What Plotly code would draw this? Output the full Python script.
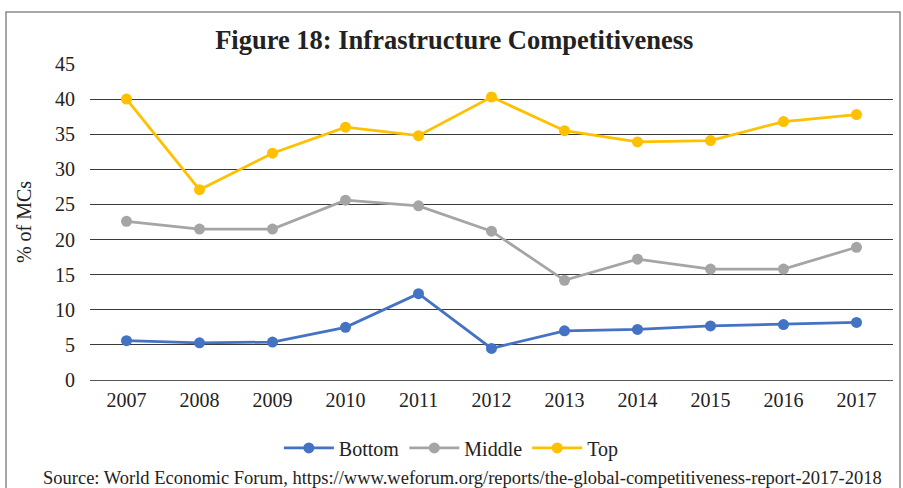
import plotly.graph_objects as go

# --- data ---
years = ["2007", "2008", "2009", "2010", "2011", "2012",
         "2013", "2014", "2015", "2016", "2017"]
bottom = [5.6, 5.3, 5.4, 7.5, 12.3, 4.5, 7.0, 7.2, 7.7, 7.9, 8.2]
middle = [22.6, 21.5, 21.5, 25.6, 24.8, 21.2, 14.2, 17.2, 15.8, 15.8, 18.9]
top = [40.0, 27.1, 32.3, 36.0, 34.8, 40.3, 35.5, 33.9, 34.1, 36.8, 37.8]

y_ticks = [0, 5, 10, 15, 20, 25, 30, 35, 40, 45]

SERIF = "Liberation Serif, Times New Roman, serif"

fig = go.Figure()

for name, vals, color in [("Bottom", bottom, "#4472C4"),
                          ("Middle", middle, "#A5A5A5"),
                          ("Top", top, "#FFC000")]:
    fig.add_trace(go.Scatter(
        x=years, y=vals,
        # legend text ignores the family otherwise, so force it inline
        name=f"<span style='font-family:Liberation Serif'>{name}</span>",
        mode="lines+markers",
        line=dict(color=color, width=2.75),
        marker=dict(color=color, size=11),
    ))

fig.update_layout(
    template="none",
    width=903, height=488,
    margin=dict(l=90, r=10, t=64, b=108, autoexpand=False),
    paper_bgcolor="white", plot_bgcolor="white",
    font=dict(family=SERIF, size=20, color="#222222"),
    title=dict(
        text="<b>Figure 18: Infrastructure Competitiveness</b>",
        x=0.503, xanchor="center", y=0.918, yanchor="middle",
        font=dict(family=SERIF, size=26.5, color="#222222"),
    ),
    legend=dict(
        orientation="h", x=0.45, xanchor="center",
        y=-0.215, yanchor="middle",
        font=dict(family=SERIF, size=20, color="#222222"),
        itemwidth=50,
    ),
    showlegend=True,
)

fig.update_xaxes(
    type="category", range=[-0.5, 10.5],
    showgrid=False, showline=False, ticks="", ticklabelstandoff=6,
    tickfont=dict(family=SERIF, size=20),
)
fig.update_yaxes(
    range=[0, 45], tickvals=y_ticks,
    showgrid=True, gridcolor="#3a3a3a", gridwidth=1,
    zeroline=True, zerolinecolor="#555555", zerolinewidth=1.2,
    showline=False, ticks="", ticklabelstandoff=14,
    tickfont=dict(family=SERIF, size=20),
    title=dict(text="% of MCs", standoff=18,
               font=dict(family=SERIF, size=20)),
)

# outer frame of the figure
fig.add_shape(type="rect", xref="paper", yref="paper",
              x0=-0.1046, x1=1.0087, y0=-0.40, y1=1.1646,
              line=dict(color="#8a8a8a", width=1.5), layer="below")

fig.add_annotation(
    text="Source: World Economic Forum, https://www.weforum.org/reports/the-global-competitiveness-report-2017-2018",
    xref="paper", yref="paper", x=0.4645, y=-0.31,
    xanchor="center", yanchor="middle", showarrow=False,
    font=dict(family=SERIF, size=18.5, color="#222222"),
)

# page body has a default 8px margin; drop it so the figure fills the window
fig.write_html("out.html", config={"displayModeBar": False},
               post_script="document.body.style.margin='0';")
